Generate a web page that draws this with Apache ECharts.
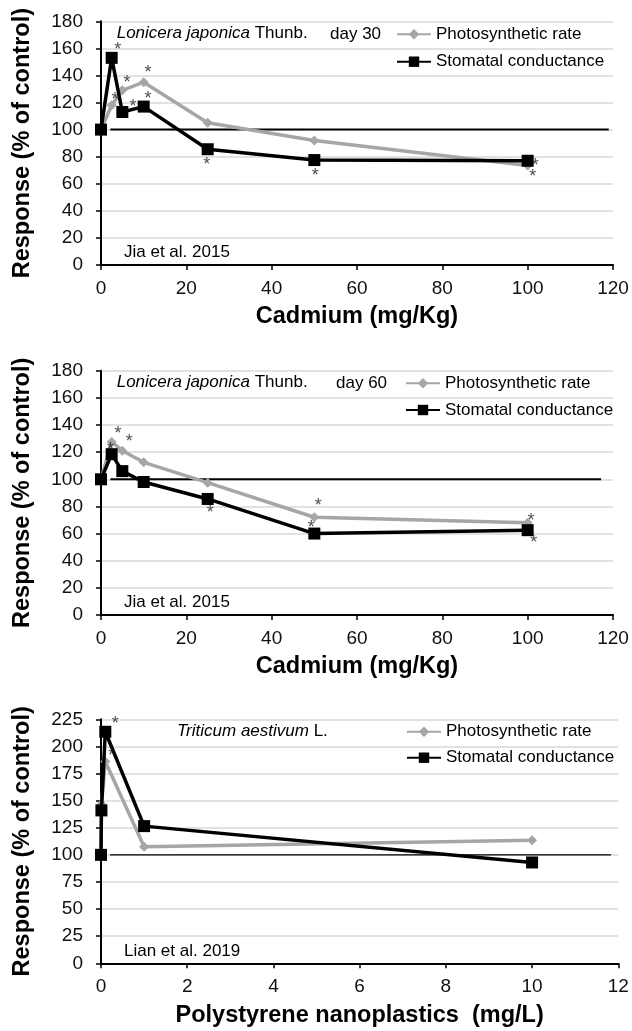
<!DOCTYPE html>
<html>
<head>
<meta charset="utf-8">
<script src="https://cdn.jsdelivr.net/npm/echarts@6/dist/echarts.min.js"></script>
<style>
  html, body { margin: 0; padding: 0; background: #fff; }
  #chart { width: 632px; height: 1031px; }
</style>
</head>
<body>
<div id="chart"></div>
<script>
// doses
const cdDose = [0, 2.5, 5, 10, 25, 50, 100]
const npDose = [0, 0.01, 0.1, 1, 10]

// responses, % of control
const psDay30 = [100, 118, 129, 135, 105, 92, 73.5]
const gsDay30 = [100, 153, 113, 117, 85.5, 77.5, 77]
const psDay60 = [100, 127.5, 121, 112.5, 97.5, 72, 68]
const gsDay60 = [100, 118.5, 106, 98, 85.5, 60, 62.5]
const psWheat = [100, 147, 186, 107.5, 113.5]
const gsWheat = [100, 141, 213.5, 126.5, 93]

// control (100 %) reference lines
const ctrl1 = [[2.2, 100], [119, 100]]
const ctrl2 = [[2.2, 100], [117.2, 100]]
const ctrl3 = [[0.21, 100], [11.83, 100]]

// significance asterisks
const star1 = [[3.9, 161], [3.3, 124], [6.1, 136.5], [7.5, 119], [11, 144], [11, 124.7], [24.8, 76], [50.2, 67.6], [101.8, 75], [101.2, 67]]
const star2 = [[4.0, 135.8], [6.6, 129.7], [2.2, 124], [25.6, 77.4], [50.9, 82.3], [49.3, 66.3], [100.8, 71.3], [101.4, 55.3]]
const star3 = [[0.33, 223.7], [0.25, 193.6]]

const PS = 'Photosynthetic rate'
const GS = 'Stomatal conductance'
const FONT = '"Liberation Sans", Arial, sans-serif'
const GRAY = '#a6a6a6'

const pair = (xs, ys) => xs.map((x, i) => [x, ys[i]])

const chart = echarts.init(document.getElementById('chart'), null, { renderer: 'canvas' })

const grids = [
  { left: 101, top: 21.3, width: 512, height: 243.7 },
  { left: 101, top: 370.7, width: 512, height: 244.3 },
  { left: 101, top: 719.3, width: 517.3, height: 244 }
]

const titleStyle = { fontFamily: FONT, fontSize: 23.5, fontWeight: 'bold', color: '#000' }

const xAxisBase = (idx, max, interval, name) => ({
  gridIndex: idx,
  type: 'value',
  min: 0,
  max: max,
  interval: interval,
  name: name,
  nameLocation: 'middle',
  nameGap: 40,
  nameTextStyle: titleStyle,
  axisLine: { show: true, onZero: false, lineStyle: { color: '#000', width: 2 } },
  axisTick: { show: true, length: 5, lineStyle: { color: '#000', width: 1.5 } },
  axisLabel: { fontFamily: FONT, fontSize: 19, color: '#111', margin: 14 },
  splitLine: { show: false }
})

const yAxisBase = (idx, max, interval) => ({
  gridIndex: idx,
  type: 'value',
  min: 0,
  max: max,
  interval: interval,
  name: 'Response (% of control)',
  nameLocation: 'middle',
  nameGap: 66,
  nameTextStyle: titleStyle,
  axisLine: { show: true, lineStyle: { color: '#000', width: 2 } },
  axisTick: { show: true, length: 5, lineStyle: { color: '#000', width: 1.5 } },
  axisLabel: { fontFamily: FONT, fontSize: 19, color: '#111', margin: 18 },
  splitLine: { show: true, lineStyle: { color: '#d9d9d9', width: 1.5 } }
})

const psSeries = (idx, data) => ({
  name: PS,
  type: 'line',
  xAxisIndex: idx,
  yAxisIndex: idx,
  data: data,
  symbol: 'diamond',
  symbolSize: 10,
  lineStyle: { color: GRAY, width: 3.5 },
  itemStyle: { color: GRAY },
  z: 3,
  animation: false
})

const gsSeries = (idx, data) => ({
  name: GS,
  type: 'line',
  xAxisIndex: idx,
  yAxisIndex: idx,
  data: data,
  symbol: 'rect',
  symbolSize: 12,
  lineStyle: { color: '#000', width: 3.5 },
  itemStyle: { color: '#000' },
  z: 4,
  animation: false
})

const ctrlSeries = (idx, data, width) => ({
  name: 'control',
  type: 'line',
  xAxisIndex: idx,
  yAxisIndex: idx,
  data: data,
  symbol: 'none',
  lineStyle: { color: '#000', width: width },
  z: 2,
  silent: true,
  animation: false
})

const starSeries = (idx, data) => ({
  name: 'sig',
  type: 'scatter',
  xAxisIndex: idx,
  yAxisIndex: idx,
  data: data,
  symbolSize: 1,
  itemStyle: { color: 'rgba(0,0,0,0)' },
  label: {
    show: true,
    position: 'inside',
    formatter: '*',
    fontFamily: FONT,
    fontSize: 18,
    color: '#222',
    offset: [0, 3]
  },
  z: 5,
  silent: true,
  animation: false
})

const legendBase = (left, top, gap) => ({
  data: [PS, GS],
  orient: 'vertical',
  left: left,
  top: top,
  padding: 0,
  itemGap: gap,
  itemWidth: 34,
  itemHeight: 13,
  textStyle: { fontFamily: FONT, fontSize: 17, color: '#000', lineHeight: 17 },
  selectedMode: false
})

const note = (x, y, text, rich) => ({
  type: 'text',
  left: x,
  top: y,
  style: {
    text: text,
    rich: rich,
    fontFamily: FONT,
    fontSize: 17,
    fill: '#000',
    verticalAlign: 'middle'
  }
})

const speciesRich = {
  i: { fontFamily: FONT, fontSize: 17, fontStyle: 'italic', color: '#000' },
  n: { fontFamily: FONT, fontSize: 17, color: '#000' }
}

const option = {
  backgroundColor: '#fff',
  animation: false,
  grid: grids,
  xAxis: [
    xAxisBase(0, 120, 20, 'Cadmium (mg/Kg)'),
    xAxisBase(1, 120, 20, 'Cadmium (mg/Kg)'),
    xAxisBase(2, 12, 2, 'Polystyrene nanoplastics  (mg/L)')
  ],
  yAxis: [
    yAxisBase(0, 180, 20),
    yAxisBase(1, 180, 20),
    yAxisBase(2, 225, 25)
  ],
  legend: [
    legendBase(396, 25.8, 10.4),
    legendBase(405, 374.8, 9.7),
    legendBase(406, 723.2, 9)
  ],
  graphic: [
    note(116.7, 24.5, '{i|Lonicera japonica}{n| Thunb.}', speciesRich),
    note(330, 25.5, 'day 30'),
    note(124, 244, 'Jia et al. 2015'),
    note(116.7, 373.5, '{i|Lonicera japonica}{n| Thunb.}', speciesRich),
    note(336, 374.5, 'day 60'),
    note(124, 593.5, 'Jia et al. 2015'),
    note(177, 722.5, '{i|Triticum aestivum}{n| L.}', speciesRich),
    note(124, 942.5, 'Lian et al. 2019')
  ],
  series: [
    ctrlSeries(0, ctrl1, 2),
    psSeries(0, pair(cdDose, psDay30)),
    gsSeries(0, pair(cdDose, gsDay30)),
    starSeries(0, star1),
    ctrlSeries(1, ctrl2, 2),
    psSeries(1, pair(cdDose, psDay60)),
    gsSeries(1, pair(cdDose, gsDay60)),
    starSeries(1, star2),
    ctrlSeries(2, ctrl3, 1.2),
    psSeries(2, pair(npDose, psWheat)),
    gsSeries(2, pair(npDose, gsWheat)),
    starSeries(2, star3)
  ]
}

chart.setOption(option)
</script>
</body>
</html>
